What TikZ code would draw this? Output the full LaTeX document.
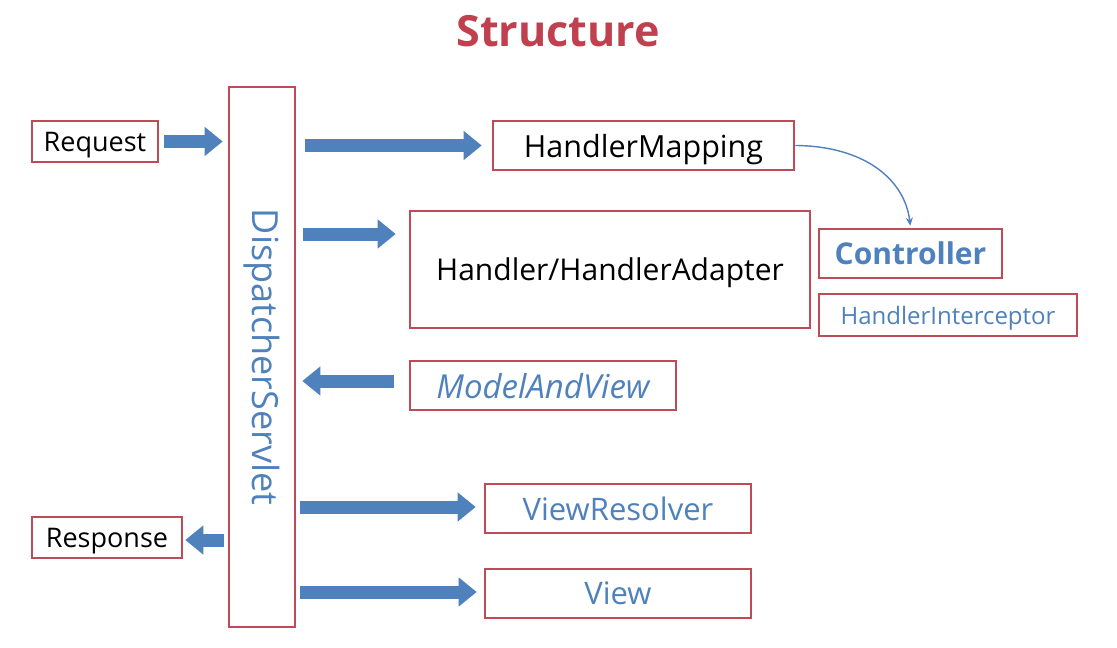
\documentclass[tikz,border=0pt]{standalone}
\usepackage{fontspec}
\setmainfont{Open Sans}
\usetikzlibrary{arrows.meta}
\definecolor{boxred}{RGB}{190,75,88}
\definecolor{titlered}{RGB}{192,64,80}
\definecolor{flowblue}{RGB}{79,129,189}
\newcommand{\fs}[1]{\fontsize{#1}{#1}\selectfont}
\begin{document}
\begin{tikzpicture}[x=1pt,y=-1pt,
  box/.style={draw=boxred,line width=2.6pt,fill=white,inner sep=0pt,
    text depth=0pt,minimum width=#1},
  flow/.style={draw=flowblue,line width=13pt,
    -{Triangle[length=18pt,width=28pt]}},
  link/.style={draw=flowblue,line width=1.4pt,-{Stealth[length=8pt,width=7pt]}}]
\fill[white] (0,0) rectangle (1117,648);
\useasboundingbox (0,0) rectangle (1117,648);

% title
\node[text=titlered,font=\bfseries\fs{43}] (title) at (558,31) {Structure};

% central servlet column
\node[box=66pt,minimum height=540pt] (ds) at (262,357) {};
\node[rotate=-90,text=flowblue,font=\fs{36}] (dsl) at (ds.center) {DispatcherServlet};

% client side
\node[box=126pt,minimum height=41pt,font=\fs{27}] (req) at (95,141.5) {Request};
\node[box=150pt,minimum height=41pt,font=\fs{27}] (resp) at (107,537.5) {Response};

% components
\node[box=301pt,minimum height=49pt,font=\fs{30.5}] (hm) at (643.5,145.5) {HandlerMapping};
\node[box=400pt,minimum height=117pt,font=\fs{30}] (ha) at (610,269.5) {Handler/HandlerAdapter};
\node[box=183pt,minimum height=49pt,text=flowblue,font=\bfseries\fs{30}] (ctrl) at (910.5,253.5) {Controller};
\node[box=258pt,minimum height=42pt,text=flowblue,font=\fs{24}] (hi) at (948,315) {HandlerInterceptor};
\node[box=266pt,minimum height=49pt,text=flowblue,font=\itshape\fs{33}] (mv) at (543,385.5) {ModelAndView};
\node[box=266pt,minimum height=49pt,text=flowblue,font=\fs{31}] (vr) at (618,508.5) {ViewResolver};
\node[box=266pt,minimum height=49pt,text=flowblue,font=\fs{31}] (view) at (618,593.5) {View};

% block arrows
\draw[flow,shorten <=5pt,shorten >=5pt] (req.east) -- (ds.west |- req.east);
\draw[flow,shorten <=9pt,shorten >=10pt] (ds.east |- hm.west) -- (hm.west);
\draw[flow,shorten <=7pt,shorten >=13pt] (ds.east |- 0,234) -- (ha.west |- 0,234);
\draw[flow,shorten <=15pt,shorten >=6pt] (mv.west |- 0,381) -- (ds.east |- 0,381);
\draw[flow,shorten <=4pt,shorten >=8pt] (ds.east |- 0,507) -- (vr.west |- 0,507);
\draw[flow,shorten <=4pt,shorten >=2pt] (ds.west |- 0,540) -- (resp.east |- 0,540);
\draw[flow,shorten <=4pt,shorten >=7pt] (ds.east |- 0,592) -- (view.west |- 0,592);

% mapping resolves the controller
\draw[link,shorten >=2pt] (hm.east) .. controls (865,146) and (905,180) .. (ctrl.north);
\end{tikzpicture}
\end{document}
